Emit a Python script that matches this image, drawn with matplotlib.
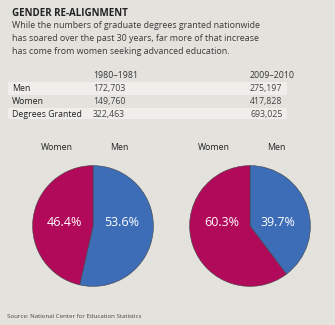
import matplotlib.pyplot as plt
from matplotlib.patches import Rectangle

years = ["1980\u20131981", "2009\u20132010"]
row_labels = ["Men", "Women", "Degrees Granted"]
men = [172703, 275197]
women = [149760, 417828]
totals = [322463, 693025]

BG = "#e3e2dd"
BAND = "#efeeeb"
BLUE = "#3d6db6"
MAGENTA = "#b20a5a"
TXT = "#333333"

W, H = 335, 325
fig = plt.figure(figsize=(W / 100, H / 100), dpi=100, facecolor=BG)
plt.rcParams["font.family"] = ["Open Sans", "DejaVu Sans"]


def fx(x):
    return x / W


def fy(y):
    return 1 - y / H


# heading + blurb
fig.text(fx(12), fy(13), "GENDER RE-ALIGNMENT", fontsize=7, fontweight="bold",
         color="#222222", va="center")
blurb = ["While the numbers of graduate degrees granted nationwide",
         "has soared over the past 30 years, far more of that increase",
         "has come from women seeking advanced education."]
for i, line in enumerate(blurb):
    fig.text(fx(12), fy(26 + i * 12.6), line, fontsize=6.4, color="#3a3a3a", va="center")

# table
for y0, y1 in [(82, 95), (108, 119)]:
    fig.add_artist(Rectangle((fx(8), fy(y1)), fx(287 - 8), (y1 - y0) / H,
                             transform=fig.transFigure, facecolor=BAND, edgecolor="none"))
col_x = [93, 250]
for j, yr in enumerate(years):
    fig.text(fx(col_x[j]), fy(75), yr, fontsize=6.3, color=TXT, va="center")
rows = [men, women, totals]
for i, lab in enumerate(row_labels):
    y = 88.5 + i * 13
    fig.text(fx(12), fy(y), lab, fontsize=6.3, color="#222222", va="center")
    for j in range(2):
        fig.text(fx(col_x[j]), fy(y), f"{rows[i][j]:,}", fontsize=6.3, color="#444444", va="center")

# pies
R = 61
for j, cx in enumerate(col_x):
    ax = fig.add_axes([fx(cx - R), fy(226 + R), 2 * R / W, 2 * R / H])
    ax.set_facecolor("none")
    vals = [men[j], women[j]]
    wedges, _ = ax.pie(vals, colors=[BLUE, MAGENTA], startangle=90, counterclock=False,
                       wedgeprops=dict(edgecolor="#444444", linewidth=0.4))
    tot = sum(vals)
    ax.text(0.47, 0.05, f"{men[j] / tot * 100:.1f}%", color="white", fontsize=9,
            fontweight="medium", ha="center", va="center")
    ax.text(-0.47, 0.05, f"{women[j] / tot * 100:.1f}%", color="white", fontsize=9,
            fontweight="medium", ha="center", va="center")
    ax.set_xlim(-1.01, 1.01)
    ax.set_ylim(-1.01, 1.01)
    ax.axis("off")
    fig.text(fx(cx - 36), fy(148), "Women", fontsize=6.3, color="#222222", ha="center", va="center")
    fig.text(fx(cx + 26), fy(148), "Men", fontsize=6.3, color="#222222", ha="center", va="center")

fig.text(fx(7), fy(316), "Source: National Center for Education Statistics", fontsize=4.4,
         color="#444444", va="center")

fig.savefig("out.png", dpi=100, facecolor=BG)
